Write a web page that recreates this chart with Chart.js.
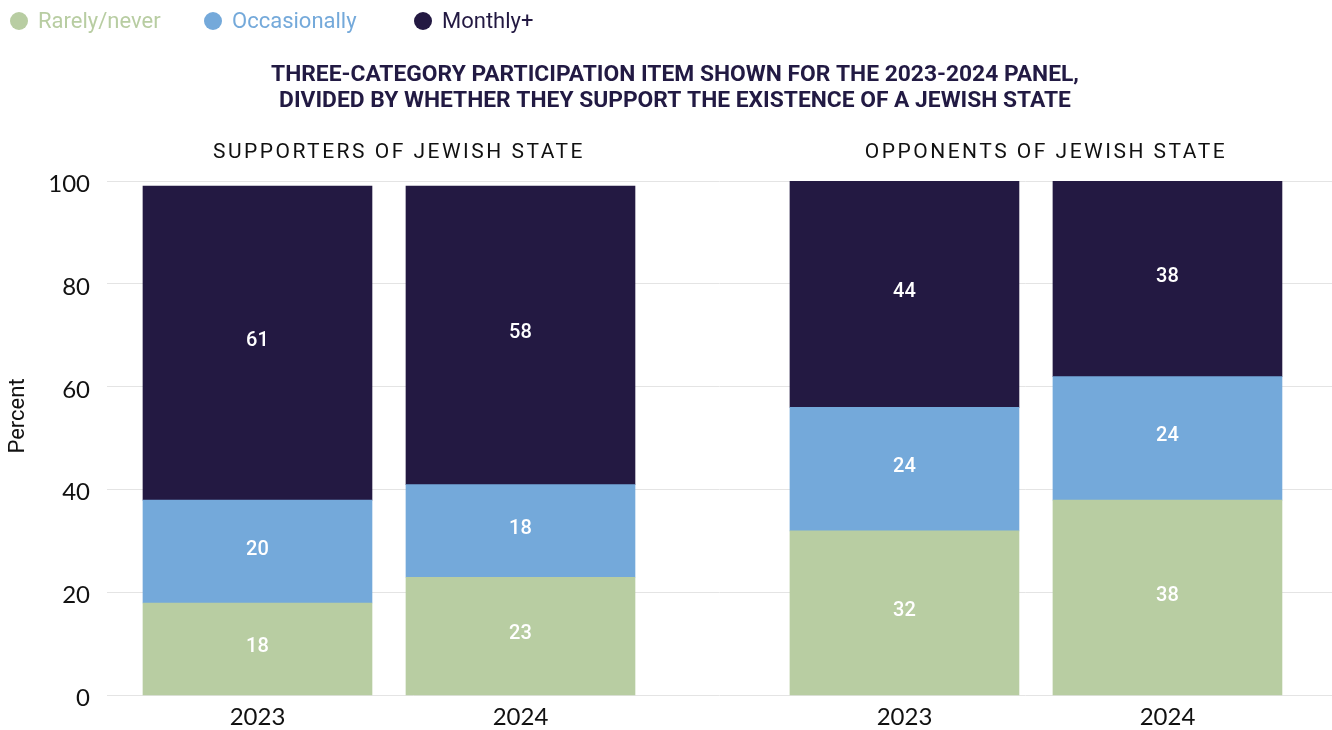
<!DOCTYPE html>
<html>
<head>
<meta charset="utf-8">
<script src="https://cdn.jsdelivr.net/npm/chart.js@4.4.1/dist/chart.umd.min.js"></script>
<style>
  html, body { margin: 0; padding: 0; background: #ffffff; }
  #wrap { width: 1332px; height: 730px; position: relative; }
</style>
</head>
<body>
<div id="wrap"><canvas id="chart" width="1332" height="730"></canvas></div>
<script>
// Panels and years (each panel holds one bar per year)
const panels = ['SUPPORTERS OF JEWISH STATE', 'OPPONENTS OF JEWISH STATE'];
const years = ['2023', '2024'];

// Stacked shares, in percent, ordered panel by panel then year by year
const seriesNames = ['Rarely/never', 'Occasionally', 'Monthly+'];
const rarelyNever = [18, 23, 32, 38];
const occasionally = [20, 18, 24, 24];
const monthlyPlus = [61, 58, 44, 38];

// Y axis tick labels
const yTickValues = [0, 20, 40, 60, 80, 100];
const yAxisTitle = 'Percent';

const titleLines = [
  'THREE-CATEGORY PARTICIPATION ITEM SHOWN FOR THE 2023-2024 PANEL,',
  'DIVIDED BY WHETHER THEY SUPPORT THE EXISTENCE OF A JEWISH STATE'
];

const colors = ['#b8cda2', '#74a9da', '#231942'];
const TEXT = '#111111';
const TITLE_COLOR = '#221a43';

// Legend dot centres along the top row
const LEGEND_DOT_X = [19, 213, 423];

// Horizontal layout of the bars: one unit per year, extra space between panels
const PANEL_STRIDE = 2.46;
const barPositions = [];
const barYearLabels = [];
panels.forEach((p, pi) => years.forEach((y, yi) => {
  barPositions.push(pi * PANEL_STRIDE + yi);
  barYearLabels.push(y);
}));

const seriesValues = [rarelyNever, occasionally, monthlyPlus];
const datasets = seriesNames.map((name, si) => ({
  label: name,
  data: seriesValues[si].map((v, i) => ({ x: barPositions[i], y: v })),
  backgroundColor: colors[si],
  borderWidth: 0,
  barThickness: 229
}));

// Value labels centred inside each stacked segment
const segmentLabels = {
  id: 'segmentLabels',
  afterDatasetsDraw(chart) {
    const ctx = chart.ctx;
    ctx.save();
    ctx.fillStyle = '#ffffff';
    ctx.font = '500 20px Roboto, "Open Sans", sans-serif';
    ctx.textAlign = 'center';
    ctx.textBaseline = 'middle';
    chart.data.datasets.forEach((ds, di) => {
      const meta = chart.getDatasetMeta(di);
      meta.data.forEach((bar, i) => {
        const p = bar.getProps(['x', 'y', 'base'], true);
        ctx.fillText(String(seriesValues[di][i]), p.x, (p.y + p.base) / 2 - 2);
      });
    });
    ctx.restore();
  }
};

// Legend row, chart title, panel headings and y axis title
const headerText = {
  id: 'headerText',
  afterDraw(chart) {
    const ctx = chart.ctx;
    const area = chart.chartArea;
    const xs = chart.scales.x;
    ctx.save();

    // legend: coloured dot followed by label in the same colour
    ctx.textAlign = 'left';
    ctx.textBaseline = 'middle';
    ctx.font = '22px Roboto, "Open Sans", sans-serif';
    seriesNames.forEach((name, i) => {
      const cx = LEGEND_DOT_X[i];
      ctx.fillStyle = colors[i];
      ctx.beginPath();
      ctx.arc(cx, 21, 9, 0, Math.PI * 2);
      ctx.fill();
      ctx.fillText(name, cx + 19, 22);
    });

    // two-line title
    ctx.textAlign = 'center';
    ctx.fillStyle = TITLE_COLOR;
    ctx.font = 'bold 22.8px Roboto, "Open Sans", sans-serif';
    titleLines.forEach((line, i) => ctx.fillText(line, 675, 75 + i * 26));

    // panel headings
    ctx.fillStyle = TEXT;
    ctx.font = '21px Roboto, "Open Sans", sans-serif';
    ctx.letterSpacing = '2.5px';
    panels.forEach((name, pi) => {
      const a = xs.getPixelForValue(barPositions[pi * years.length]);
      const b = xs.getPixelForValue(barPositions[pi * years.length + years.length - 1]);
      ctx.fillText(name, (a + b) / 2 + 10, area.top - 28);
    });
    ctx.letterSpacing = '0px';

    // y axis title
    ctx.font = '22px Roboto, "Open Sans", sans-serif';
    ctx.translate(18, 416);
    ctx.rotate(-Math.PI / 2);
    ctx.fillText(yAxisTitle, 0, 0);
    ctx.restore();
  }
};

new Chart(document.getElementById('chart'), {
  type: 'bar',
  data: { datasets },
  plugins: [segmentLabels, headerText],
  options: {
    responsive: false,
    animation: false,
    layout: { padding: { left: 0, right: 0, top: 181, bottom: 0 } },
    plugins: {
      legend: { display: false },
      title: { display: false },
      tooltip: { enabled: false }
    },
    scales: {
      x: {
        type: 'linear',
        stacked: true,
        offset: false,
        min: -0.5722,
        max: 4.0856,
        grid: { display: false },
        border: { display: false },
        afterBuildTicks(scale) {
          scale.ticks = barPositions.map(v => ({ value: v }));
        },
        ticks: {
          autoSkip: false,
          maxRotation: 0,
          padding: 0,
          color: TEXT,
          font: { family: 'Lato, "Open Sans", sans-serif', size: 24, lineHeight: 1.1 },
          callback(value, index) { return barYearLabels[index]; }
        }
      },
      y: {
        stacked: true,
        min: 0,
        max: 100,
        afterFit(scale) { scale.width = 107; },
        afterBuildTicks(scale) {
          scale.ticks = yTickValues.map(v => ({ value: v }));
        },
        grid: { color: '#e4e4e4', lineWidth: 1, drawTicks: false },
        border: { display: false },
        ticks: {
          padding: 17,
          labelOffset: 3,
          color: TEXT,
          font: { family: 'Lato, "Open Sans", sans-serif', size: 24 }
        }
      }
    }
  }
});
</script>
</body>
</html>
